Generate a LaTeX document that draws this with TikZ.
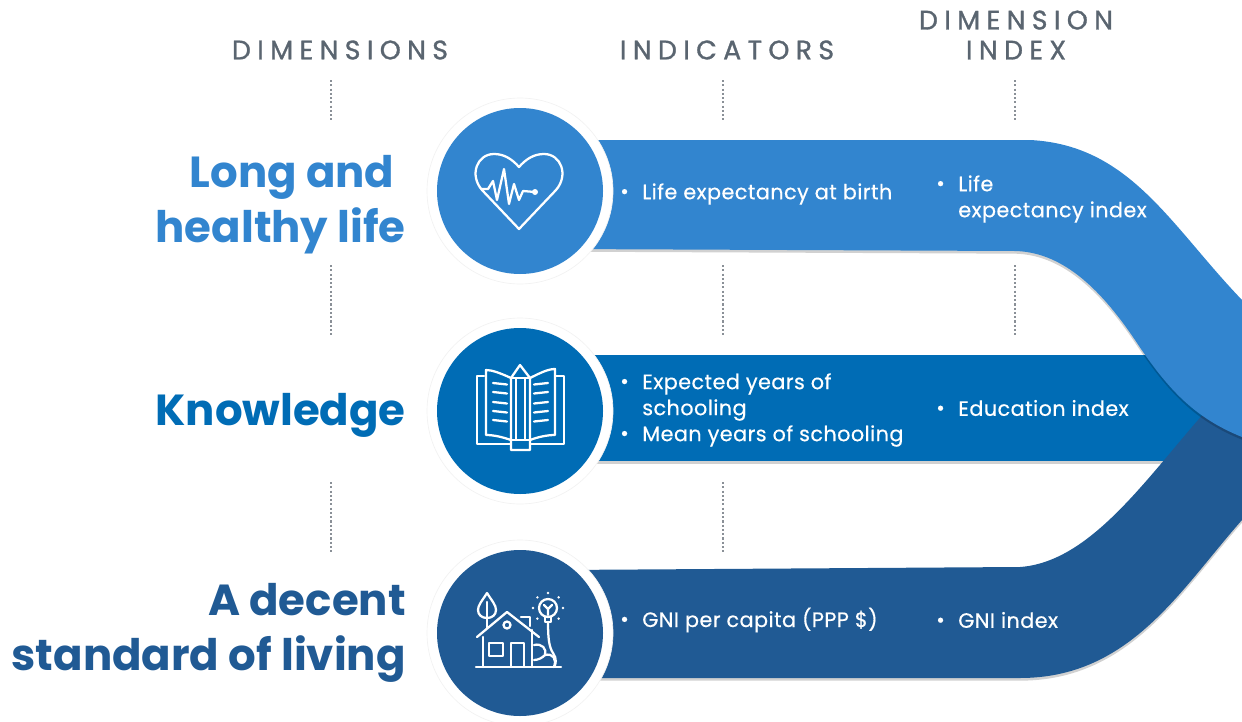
\documentclass[tikz,border=0pt]{standalone}
\usepackage{fontspec}
\usetikzlibrary{shadows}
\setmainfont{Poppins}
\newfontfamily\headfont[LetterSpace=24,FakeBold=1.2]{Poppins}
\newfontfamily\itemfont[LetterSpace=2,FakeBold=0.4]{Poppins}
\definecolor{lifeblue}{HTML}{3285CF}
\definecolor{knowblue}{HTML}{006CB5}
\definecolor{livingblue}{HTML}{205A94}
\definecolor{headgrey}{HTML}{5A6570}
\definecolor{dotgrey}{HTML}{8A9097}
\newcommand{\bul}{\makebox[16.5pt][l]{\raisebox{.5pt}{•}}}
\tikzset{
  header/.style={text=headgrey,font=\fontsize{20}{22.5}\selectfont\headfont,align=center,inner sep=0pt},
  dimtitle/.style={font=\fontsize{32.6}{41.2}\selectfont\bfseries,align=right,anchor=east,inner sep=0pt},
  itemtext/.style={text=white,font=\fontsize{15.6}{19.5}\selectfont\itemfont,align=left,anchor=west,inner sep=0pt},
  dotline/.style={dotgrey,line width=1.6pt,dash pattern=on 1.6pt off 1.6pt},
  ring/.style={circle,fill=white,draw=black!5,line width=.5pt,minimum size=139.5pt,inner sep=0pt},
  disc/.style={circle,minimum size=124.5pt,inner sep=0pt},
  band/.style={drop shadow={shadow xshift=0pt,shadow yshift=-2pt,opacity=.18,fill=black}},
  icon/.style={white,line width=1.7pt,line join=round,line cap=round}
}
\begin{document}
\begin{tikzpicture}[x=.75pt,y=-.75pt]
  \useasboundingbox (0,0) rectangle (1242,721);

  % column headers
  \node[header] (hdim) at (340,50) {DIMENSIONS};
  \node[header] (hind) at (727,50) {INDICATORS};
  \node[header] (hidx) at (1016,35) {DIMENSION\\INDEX};

  % dotted rules
  \coordinate (a1) at (331,80);  \coordinate (a2) at (331,120);
  \coordinate (a3) at (331,265); \coordinate (a4) at (331,337);
  \coordinate (a5) at (331,482); \coordinate (a6) at (331,554);
  \coordinate (b1) at (723,80);  \coordinate (b2) at (723,120);
  \coordinate (b3) at (723,265); \coordinate (b4) at (723,337);
  \coordinate (b5) at (723,482); \coordinate (b6) at (723,554);
  \coordinate (c1) at (1015,80);  \coordinate (c2) at (1015,120);
  \coordinate (c3) at (1015,265); \coordinate (c4) at (1015,337);
  \draw[dotline] (a1) -- (a2);
  \draw[dotline] (a3) -- (a4);
  \draw[dotline] (a5) -- (a6);
  \draw[dotline] (b1) -- (b2);
  \draw[dotline] (b3) -- (b4);
  \draw[dotline] (b5) -- (b6);
  \draw[dotline] (c1) -- (c2);
  \draw[dotline] (c3) -- (c4);

  % ribbons
  \fill[knowblue,band] (560,355) -- (1242,355) -- (1242,461) -- (560,461) -- cycle;
  \fill[livingblue,band] (560,570) -- (1020,567)
    .. controls (1090,562) and (1145,480) .. (1205,412)
    -- (1242,437) -- (1242,520)
    .. controls (1180,590) and (1130,678) .. (1020,678)
    -- (560,678) -- cycle;
  \fill[lifeblue,band] (560,140) -- (1030,140)
    .. controls (1130,145) and (1170,225) .. (1242,300)
    -- (1242,437)
    .. controls (1195,418) and (1168,390) .. (1135,340)
    .. controls (1098,285) and (1060,252) .. (1015,251)
    -- (560,249) -- cycle;

  % circles
  \node[ring] (r1) at (520,191) {};
  \node[ring] (r2) at (520,411) {};
  \node[ring] (r3) at (520,633) {};
  \node[disc,fill=lifeblue] (d1) at (520,191) {};
  \node[disc,fill=knowblue] (d2) at (520,411) {};
  \node[disc,fill=livingblue] (d3) at (520,633) {};

  % heart
  \begin{scope}[shift={(d1.center)},icon]
    \draw (-1,38) -- (-38,-1) .. controls (-51,-16) and (-43,-37) .. (-26,-37)
      .. controls (-16,-37) and (-8,-32) .. (-1,-24)
      .. controls (6,-32) and (14,-37) .. (24,-37)
      .. controls (41,-37) and (49,-16) .. (36,-1) -- cycle;
    \draw (-38,-2) -- (-32,-2) -- (-27,-10) -- (-23,9) -- (-16,-22) -- (-11,13)
      -- (-6,-7) -- (-1,9) -- (3,0) -- (15,1);
    \fill[white] (15,1) circle (3);
  \end{scope}

  % book
  \begin{scope}[shift={(d2.center)},icon]
    \draw (-36,-35) -- (-43,-35) -- (-43,33) -- (-9,33);
    \draw (36,-35) -- (44,-35) -- (44,33) -- (10,33);
    \draw (-9,-33) .. controls (-20,-38) and (-28,-41) .. (-34,-41) -- (-34,24) .. controls (-26,24) and (-18,26) .. (-9,29);
    \draw (10,-33) .. controls (20,-38) and (28,-42) .. (35,-42) -- (35,24) .. controls (27,24) and (18,26) .. (10,29);
    \draw (-9,-33) -- (0,-46) -- (10,-33) -- (10,39) -- (-9,39) -- cycle;
    \draw (-9,29) -- (10,29);
    \draw (-4,-33) -- (-4,29);
    \draw (5,-33) -- (5,29);
    \draw (-9,-33) -- (10,-33);
    \foreach \y in {-28,-19,-9,0,9} {
      \draw (-27,\y) -- (-13,\y+1.5);
      \draw (14,\y+1.5) -- (28,\y);
    }
  \end{scope}

  % house
  \begin{scope}[shift={(d3.center)},icon]
    \draw (-44,34) -- (41,34);
    \draw (-43,4) -- (-13,-21) -- (19,4);
    \draw (-37,4) -- (-37,34);
    \draw (12,-3) -- (12,34);
    \draw (1,-16) -- (10,-16) -- (10,-7);
    \draw (-31,10) rectangle (-17,23);
    \draw (-9,34) -- (-9,10) -- (4,10) -- (4,34);
    \draw (-13,-8) circle (3.5);
    % tree
    \draw (-33,-40) .. controls (-28,-32) and (-24,-28) .. (-24,-23) .. controls (-24,-18) and (-28,-15) .. (-33,-15)
      .. controls (-38,-15) and (-42,-18) .. (-42,-23) .. controls (-42,-28) and (-38,-32) .. (-33,-40) -- cycle;
    \draw (-33,-31) -- (-33,-5);
    % bulb
    \draw (28,-25) circle (9);
    \draw (25,-16) -- (31,-16) -- (31,-11) -- (25,-11) -- cycle;
    \draw (28,-11) .. controls (28,5) and (29,14) .. (33,20) .. controls (37,25) and (36,32) .. (34,34);
    \draw (28,-18) -- (28,-24) (24,-28) -- (28,-24) -- (32,-28);
    \foreach \a in {-135,-90,-45,0,45,135,180} {
      \fill[white] (28,-25) ++(\a:15) circle (1.3);
    }
    % bush
    \draw (14,12) .. controls (22,10) and (27,16) .. (25,22) .. controls (33,20) and (37,26) .. (34,34);
    \draw (14,27) .. controls (18,27) and (22,25) .. (25,22);
  \end{scope}

  % dimension titles
  \node[dimtitle,text=lifeblue] (t1) at (406,205) {Long and\hspace*{8.5pt}\\healthy life};
  \node[dimtitle,text=knowblue] (t2) at (406,415) {Knowledge};
  \node[dimtitle,text=livingblue] (t3) at (406,633) {A decent\\standard of living};

  % ribbon texts
  \node[itemtext] (i1) at (620,194) {\bul Life expectancy at birth};
  \node[itemtext] (i2) at (620,410) {\bul Expected years of\\\hspace*{16.5pt}schooling\\\bul Mean years of schooling};
  \node[itemtext] (i3) at (620,620) {\bul GNI per capita (PPP \$)};
  \node[itemtext] (x1) at (936,199) {\bul Life\\\hspace*{16.5pt}expectancy index};
  \node[itemtext] (x2) at (936,408) {\bul Education index};
  \node[itemtext] (x3) at (936,620) {\bul GNI index};
\end{tikzpicture}
\end{document}
